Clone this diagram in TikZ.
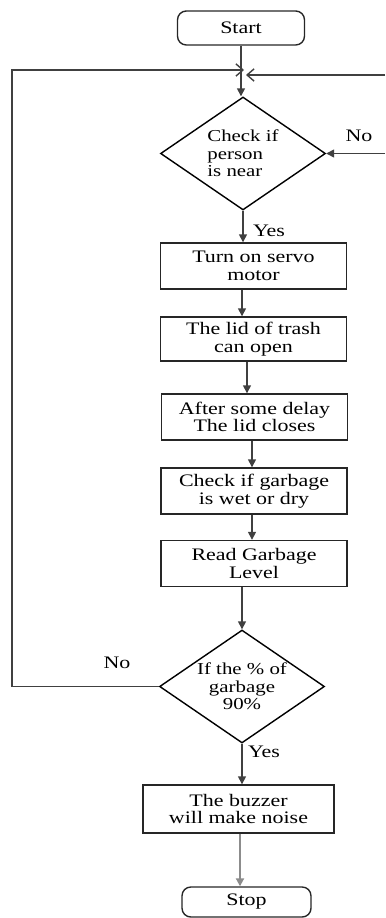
\documentclass[tikz,border=0pt]{standalone}
\usepackage{fontspec}
\setmainfont{Liberation Serif}[FakeStretch=1.25]
\usetikzlibrary{shapes.geometric,arrows.meta}

\begin{document}
\begin{tikzpicture}[x=0.02cm,y=-0.02cm,
    proc/.style={draw=black!85,line width=0.8pt,minimum width=3.72cm,%
      minimum height=0.92cm,inner sep=1pt,align=center,%
      font=\fontsize{10}{10}\selectfont},
    term/.style={proc,rounded corners=5pt,minimum width=2.54cm,minimum height=0.68cm},
    decide/.style={diamond,draw,line width=0.8pt,aspect=1.45,inner sep=-4pt,%
      minimum width=3.3cm,minimum height=2.26cm,align=left,%
      font=\fontsize{9.5}{10}\selectfont},
    flow/.style={draw=black!75,line width=0.8pt,-{Triangle[width=4.5pt,length=4.5pt]}},
    back/.style={draw=black!75,line width=0.8pt,-{Straight Barb[width=7pt,length=4pt]}},
    lbl/.style={font=\fontsize{10}{10}\selectfont,inner sep=0pt}]
      \useasboundingbox (0,0) rectangle (385,918) ;
      \node[term] (start) at (241,28) {Start} ;
      \node[decide] (check) at (243,153.5) {Check if\\person\\is near} ;
      \node[proc] (servo) at (253.5,266) {Turn on servo\\motor} ;
      \node[proc,minimum height=0.88cm] (lid) at (253.5,339) {The lid of trash\\can open} ;
      \node[proc] (delay) at (254.5,417) {After some delay\\The lid closes} ;
      \node[proc] (wet) at (254,491) {Check if garbage\\is wet or dry} ;
      \node[proc] (level) at (254,563.5) {Read Garbage\\Level} ;
      \node[decide,align=center] (full) at (242,686.5) {If the \% of\\garbage\\90\%} ;
      \node[proc,minimum width=3.82cm,minimum height=0.96cm] (buzz) %
      at (238.5,809) {The buzzer\\will make noise} ;
      \node[term,minimum width=2.58cm,minimum height=0.6cm] (stop) at (246.5,902) {Stop} ;
      % labels on the branches
      \node[lbl] (no1) at (359,136) {No} ;
      \node[lbl] (yes1) at (269,231) {Yes} ;
      \node[lbl] (no2) at (117,663) {No} ;
      \node[lbl] (yes2) at (264,752) {Yes} ;
      % loose ends of the loops
      \coordinate (joinL) at (244,70) ;
      \coordinate (joinR) at (246,75) ;
      \coordinate (edgeR) at (385,75) ;
      \coordinate (edgeN) at (385,153.5) ;
      \coordinate (loopX) at (12,0) ;
      \draw[flow] (start.south) -- (start.south |- check.north) ;
      \draw[flow] (check.south) -- (check.south |- servo.north) ;
      \draw[flow] (servo.south -| 242,0) -- (lid.north -| 242,0) ;
      \draw[flow] (lid.south -| 247,0) -- (delay.north -| 247,0) ;
      \draw[flow] (delay.south -| 252,0) -- (wet.north -| 252,0) ;
      \draw[flow] (wet.south -| 252,0) -- (level.north -| 252,0) ;
      \draw[flow] (level.south -| full.north) -- (full.north) ;
      \draw[flow] (full.south) -- (full.south |- buzz.north) ;
      \draw[flow,draw=black!45,line width=1.1pt] (buzz.south -| 240,0) -- (stop.north -| 240,0) ;
      \draw[flow] (edgeN) -- (check.east) ;
      \draw[back] (full.west) -- (loopX |- full.west) -- (loopX |- joinL) -- (joinL) ;
      \draw[back] (edgeR) -- (joinR) ;
    \end{tikzpicture}
\end{document}
